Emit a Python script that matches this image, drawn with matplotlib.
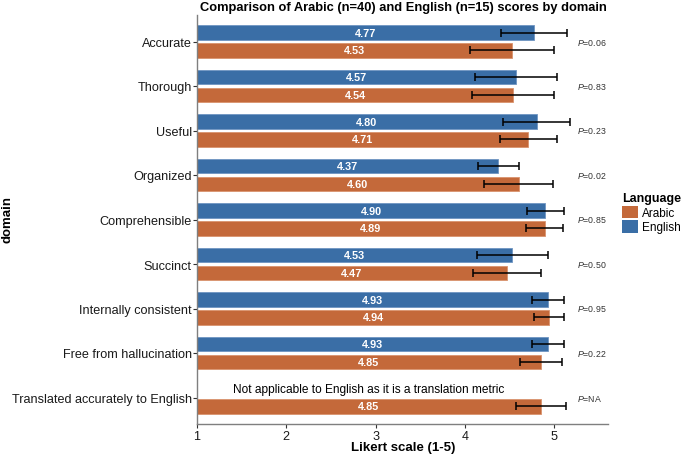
import numpy as np
import matplotlib
matplotlib.use("Agg")
import matplotlib.pyplot as plt
from matplotlib.patches import Patch

plt.rcParams['font.family'] = ['Liberation Sans', 'DejaVu Sans']
plt.rcParams['mathtext.fontset'] = 'custom'
plt.rcParams['mathtext.it'] = 'Liberation Sans:italic'
plt.rcParams['mathtext.rm'] = 'Liberation Sans'

domains = ["Accurate", "Thorough", "Useful", "Organized", "Comprehensible",
           "Succinct", "Internally consistent", "Free from hallucination",
           "Translated accurately to English"]
arabic_mean = [4.53, 4.54, 4.71, 4.60, 4.89, 4.47, 4.94, 4.85, 4.85]
arabic_sd = [0.47, 0.46, 0.32, 0.39, 0.21, 0.38, 0.17, 0.235, 0.285]
english_mean = [4.77, 4.57, 4.80, 4.37, 4.90, 4.53, 4.93, 4.93, np.nan]
english_sd = [0.37, 0.46, 0.37, 0.23, 0.205, 0.40, 0.18, 0.18, np.nan]
p_values = ["0.06", "0.83", "0.23", "0.02", "0.85", "0.50", "0.95", "0.22", "NA"]

c_ar = "#C4693A"
c_en = "#3A6EA6"
base = 1.0

fig = plt.figure(figsize=(6.81, 4.56), dpi=100)
ax = fig.add_axes([197/681, 1-425.2/456, (608-197)/681, (425.2-15.8)/456])

y = np.arange(len(domains))
h = 0.33
off = 0.2
ar = np.array(arabic_mean); en = np.array(english_mean)
ax.barh(y + off, ar - base, left=base, height=h, color=c_ar, edgecolor="#D9936E", linewidth=0.6)
mask = ~np.isnan(en)
ax.barh(y[mask] - off, en[mask] - base, left=base, height=h, color=c_en, edgecolor="#6F95C2", linewidth=0.6)

ax.errorbar(ar, y + off, xerr=arabic_sd, fmt='none', ecolor='black', elinewidth=1.1, capsize=3, capthick=1.1)
ax.errorbar(en[mask], y[mask] - off, xerr=np.array(english_sd)[mask], fmt='none', ecolor='black', elinewidth=1.1, capsize=3, capthick=1.1)

for i in range(len(domains)):
    ax.text((base + ar[i]) / 2, y[i] + off, f"{ar[i]:.2f}", color='white', fontweight='bold',
            fontsize=7.8, ha='center', va='center')
    if mask[i]:
        ax.text((base + en[i]) / 2, y[i] - off, f"{en[i]:.2f}", color='white', fontweight='bold',
                fontsize=7.8, ha='center', va='center')
    ax.text(5.25, y[i], r"$\it{P}$=" + p_values[i], fontsize=6.3, color='#333333', ha='left', va='center')

ax.text(2.92, len(domains) - 1 - off, "Not applicable to English as it is a translation metric",
        fontsize=8.6, ha='center', va='center', color='black')

ax.set_xlim(1, 5.6)
ax.set_ylim(len(domains) - 1 + 0.6, -0.6)
ax.set_yticks(y)
ax.set_yticklabels(domains, fontsize=9.1, color='#1a1a1a')
ax.set_xticks([1, 2, 3, 4, 5])
ax.set_xticklabels(["1", "2", "3", "4", "5"], fontsize=9.1, color='#1a1a1a')
for s in ['top', 'right']:
    ax.spines[s].set_visible(False)
for s in ['left', 'bottom']:
    ax.spines[s].set_color('#7f7f7f')
    ax.spines[s].set_linewidth(1.0)
ax.tick_params(axis='y', colors='#333333', length=3, width=0.8, labelcolor='#1a1a1a', pad=0.8)
ax.tick_params(axis='x', colors='#333333', length=3, width=0.8, labelcolor='#1a1a1a', pad=1.5)

fig.text(403/681, 1-448/456, "Likert scale (1-5)", fontsize=9.5, fontweight='bold', ha='center', va='center')
fig.text(8/681, 1-220/456, "domain", fontsize=9.5, fontweight='bold', ha='center', va='center', rotation=90)
fig.text(403/681, 1-8/456, "Comparison of Arabic (n=40) and English (n=15) scores by domain",
         fontsize=9.3, fontweight='bold', ha='center', va='center')

handles = [Patch(facecolor=c_ar, edgecolor="none", label="Arabic"),
           Patch(facecolor=c_en, edgecolor="none", label="English")]
leg = fig.legend(handles=handles, title="Language", loc='upper left',
                 bbox_to_anchor=(620/681, 1-191/456), frameon=False,
                 fontsize=8.5, title_fontproperties={'weight': 'bold', 'size': 9},
                 handlelength=1.3, handleheight=1.3, handletextpad=0.4,
                 labelspacing=0.1, borderaxespad=0, borderpad=0.2)
leg._legend_box.align = "left"

fig.savefig("out.png", dpi=100)
